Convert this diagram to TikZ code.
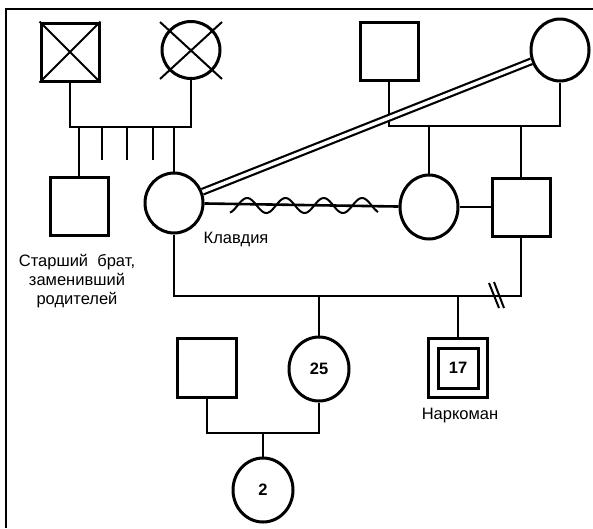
\documentclass[tikz,border=0pt]{standalone}
\usepackage{fontspec}
\setmainfont{Liberation Sans}
\usetikzlibrary{shapes.geometric}

\begin{document}
\begin{tikzpicture}[x=1pt, y=-1pt,
      line width=2.6pt,
      every node/.style={color=black, font=\fontsize{16.5}{19}\selectfont},
      male/.style={draw, line width=3pt, minimum size=58pt, inner sep=0pt},
      female/.style={draw, ellipse, line width=3pt, minimum width=58pt, minimum height=62pt, inner sep=0pt, font=\fontsize{16.5}{19}\selectfont\bfseries},
      cross line/.style={line width=2pt},
      close line/.style={double, double distance=3.5pt, line width=2.2pt},
      thin line/.style={line width=2pt}
      ]
      \useasboundingbox (0,0) rectangle (593,528);
      % frame
      \draw[line width=2pt] (593,9) -- (6,9) -- (6,528);

      % grandparents
      \node[male] (grandpa) at (70,52) {};
      \draw[cross line] (grandpa.north west) -- (grandpa.south east)
                        (grandpa.north east) -- (grandpa.south west);
      \node[female, minimum height=57pt] (grandma) at (191,50) {};
      \draw[cross line] (grandma) ++(-31,-28) -- ++(62,57);
      \draw[cross line] (grandma) ++(31,-28) -- ++(-62,57);
      \coordinate (par1) at (130,127);
      \draw (grandpa) |- (par1) -| (grandma);

      % siblings
      \node[male] (brother) at (79,206) {};
      \node[female, minimum height=60pt] (klavdia) at (174,203) {};
      \draw (brother) -- (brother |- par1);
      \draw (klavdia) -- (klavdia |- par1);
      \foreach \x in {102,127,153}
        \draw (\x,127) -- (\x,160);

      % husband's parents
      \node[male] (fil) at (389,51) {};
      \node[female] (mil) at (560,50) {};
      \coordinate (par2) at (475,126);
      \draw (fil) |- (par2) -| (mil);
      \node[female, minimum height=64pt] (sil) at (429,207) {};
      \node[male] (husband) at (521,207) {};
      \draw (sil) -- (sil |- par2);
      \draw (husband) -- (husband |- par2);

      % relations
      \draw[close line] (klavdia) -- (mil);
      \draw (klavdia) -- (sil);
      \draw[thin line] plot[domain=230:378, samples=90, smooth]
            (\x, {205.5 + 7.5*cos((\x-228)*9.3995)});
      \draw (sil) -- (husband);

      % marriage
      \coordinate (mar1) at (350,296);
      \draw (klavdia) |- (mar1) -| (husband);
      \draw[thin line] (489,283) -- (499,308);
      \draw[thin line] (494,282) -- (504,308);

      % children
      \node[female, minimum width=60pt, minimum height=64pt] (daughter) at (319,369) {25};
      \node[male, minimum size=59pt] (son) at (458,368) {};
      \node[draw, line width=3pt, minimum size=40pt, inner sep=0pt,
            font=\fontsize{16.5}{19}\selectfont\bfseries] (soninner) at (son) {17};
      \draw (daughter) -- (daughter |- mar1);
      \draw (son) -- (son |- mar1);

      % daughter's family
      \node[male, minimum size=59pt] (sonlaw) at (207,368) {};
      \coordinate (mar2) at (263,433);
      \draw (sonlaw) |- (mar2) -| (daughter);
      \node[female, minimum width=60pt, minimum height=64pt] (grandchild) at (263,490) {2};
      \draw (grandchild) -- (grandchild |- mar2);

      % labels
      \node[anchor=west] (klavlabel) at (199,239) {Клавдия};
      \node[align=center] (brlabel) at (77,281) {Старший\ \ брат,\\заменивший\\родителей};
      \node (sonlabel) at (460,416) {Наркоман};
\end{tikzpicture}
\end{document}
